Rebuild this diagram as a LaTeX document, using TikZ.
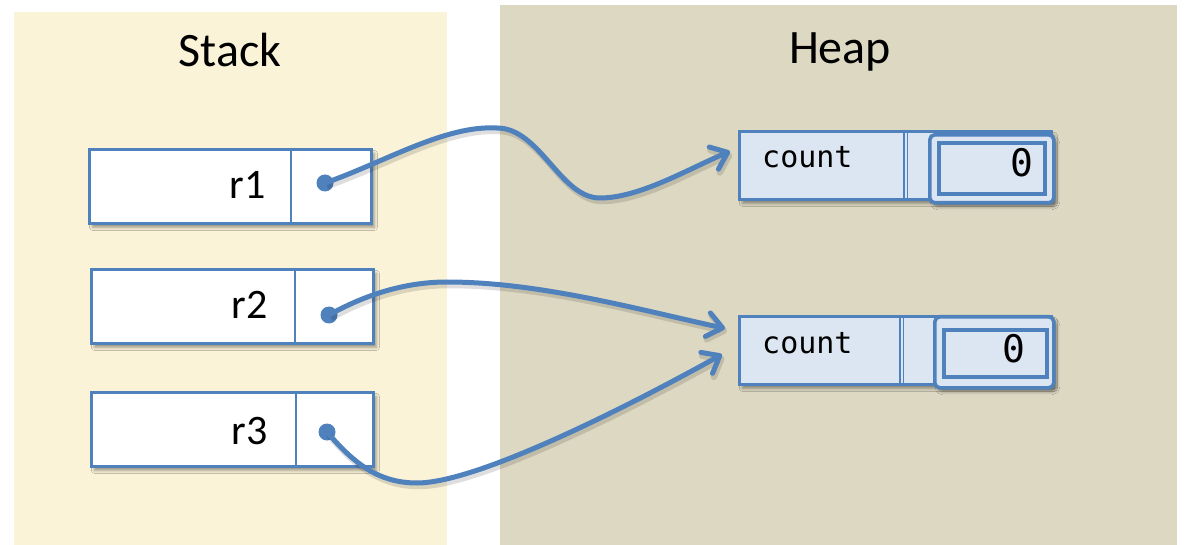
\documentclass[tikz,border=0pt]{standalone}
\usepackage{fontspec}
\setmainfont{Carlito}
\newfontfamily\codefont{DejaVu Sans Mono}
\usetikzlibrary{arrows.meta,shadows.blur}
\definecolor{stackbg}{HTML}{FAF3D8}
\definecolor{heapbg}{HTML}{DDD8C2}
\definecolor{ptrblue}{HTML}{4F81BD}
\definecolor{cellfill}{HTML}{DCE6F2}

\begin{document}
\begin{tikzpicture}[x=1pt,y=-1pt,
  boxshadow/.style={blur shadow={shadow xshift=3pt,shadow yshift=-4pt,shadow blur radius=3pt,shadow opacity=40}},
  varbox/.style={draw=ptrblue,line width=2.8pt,fill=white,inner sep=0pt,anchor=north west,
    minimum width=282pt,minimum height=74pt,boxshadow},
  objbox/.style={draw=ptrblue,line width=2.8pt,fill=cellfill,inner sep=0pt,anchor=north west,
    minimum width=312pt,minimum height=68pt,boxshadow},
  fieldbox/.style={draw=ptrblue,line width=3.6pt,fill=cellfill,rounded corners=5pt,inner sep=0pt,
    anchor=north west,boxshadow},
  valbox/.style={draw=ptrblue,line width=4pt,fill=cellfill,inner sep=0pt,anchor=north west},
  divider/.style={draw=ptrblue,line width=2.6pt},
  thindivider/.style={draw=ptrblue,line width=0.9pt},
  title/.style={font=\fontsize{48}{56}\selectfont,anchor=base,inner sep=0pt},
  varname/.style={font=\fontsize{42}{48}\selectfont,anchor=base east,inner sep=0pt},
  code/.style={font=\codefont\fontsize{30}{34}\selectfont,anchor=base west,inner sep=0pt},
  value/.style={font=\codefont\fontsize{38}{42}\selectfont,anchor=base east,inner sep=0pt},
  dot/.style={circle,fill=ptrblue,inner sep=0pt,minimum size=17pt},
  ref/.style={draw=ptrblue,line width=5pt,line cap=round,
    -{Straight Barb[length=15pt,width=24pt,round]},
    preaction={draw=black,opacity=0.13,line width=6.5pt,transform canvas={xshift=2pt,yshift=-3pt}}}
]
\useasboundingbox (0,0) rectangle (1186,545);

% memory areas
\fill[stackbg] (14,12) rectangle (447,545);
\fill[heapbg] (500,5) rectangle (1177,545);
\node[title] (stk) at (230,67) {Stack};
\node[title] (hp) at (840,64) {Heap};

% stack variables
\node[varbox] (s1) at (88,148) {};
\node[varbox] (s2) at (90,268) {};
\node[varbox] (s3) at (90,391) {};
\draw[divider] ([xshift=203pt]s1.north west) -- ([xshift=203pt]s1.south west);
\draw[divider] ([xshift=205pt]s2.north west) -- ([xshift=205pt]s2.south west);
\draw[divider] ([xshift=206pt]s3.north west) -- ([xshift=206pt]s3.south west);
\node[varname] (n1) at (266,199) {r1};
\node[varname] (n2) at (268,319) {r2};
\node[varname] (n3) at (268,444) {r3};
\node[dot] (d1) at (325,183) {};
\node[dot] (d2) at (329,315) {};
\node[dot] (d3) at (327,432) {};

% heap objects
\node[objbox] (h1) at (738,130) {};
\draw[divider] ([xshift=166pt]h1.north west) -- ([xshift=166pt]h1.south west);
\draw[thindivider] ([xshift=169.5pt]h1.north west) -- ([xshift=169.5pt]h1.south west);
\node[fieldbox,minimum width=124pt,minimum height=68pt] (f1) at (928,133) {};
\node[valbox,minimum width=106pt,minimum height=51pt] (v1) at (937,141) {};
\node[code] (c1) at (762,168) {count};
\node[value] (z1) at (1034,177) {0};

\node[objbox] (h2) at (738,315) {};
\draw[divider] ([xshift=162pt]h2.north west) -- ([xshift=162pt]h2.south west);
\draw[thindivider] ([xshift=165.5pt]h2.north west) -- ([xshift=165.5pt]h2.south west);
\node[fieldbox,minimum width=119pt,minimum height=71pt] (f2) at (933,315) {};
\node[valbox,minimum width=103pt,minimum height=47pt] (v2) at (942,328) {};
\node[code] (c2) at (762,353) {count};
\node[value] (z2) at (1026,362) {0};

% references
\draw[ref] (d1.center) .. controls (385,162) and (445,125) .. (497,128)
  .. controls (540,128) and (560,198) .. (600,198)
  .. controls (640,198) and (690,168) .. ([xshift=-8pt,yshift=14pt]h1.west);
\draw[ref] (d2.center) .. controls (370,292) and (410,282) .. (447,282)
  .. controls (540,282) and (640,310) .. ([xshift=-13pt,yshift=22pt]h2.west);
\draw[ref] (d3.center) .. controls (355,465) and (380,483) .. (417,483)
  .. controls (480,483) and (640,400) .. ([xshift=-16pt,yshift=-4pt]h2.west);
\end{tikzpicture}
\end{document}
